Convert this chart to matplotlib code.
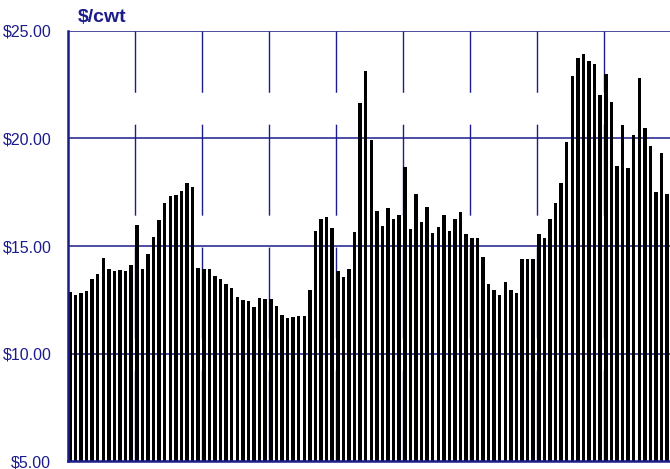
import matplotlib
matplotlib.use("Agg")
import matplotlib.pyplot as plt
import numpy as np

plt.rcParams['font.family'] = ['Liberation Sans', 'DejaVu Sans']

# Monthly prices, $/cwt (9 years x 12 months)
prices = [
    12.87, 12.71, 12.81, 12.91, 13.47, 13.68, 14.44, 13.94, 13.84, 13.88, 13.82, 14.10,
    15.98, 13.93, 14.64, 15.42, 16.21, 16.99, 17.34, 17.39, 17.56, 17.93, 17.76, 13.96,
    13.93, 13.93, 13.60, 13.47, 13.23, 13.03, 12.61, 12.47, 12.44, 12.15, 12.58, 12.52,
    12.53, 12.21, 11.79, 11.64, 11.70, 11.73, 11.74, 12.95, 15.70, 16.26, 16.36, 15.83,
    13.85, 13.57, 13.93, 15.64, 21.67, 23.14, 19.95, 16.63, 15.95, 16.77, 16.27, 16.44,
    18.67, 15.79, 17.43, 16.13, 16.81, 15.60, 15.88, 16.44, 15.70, 16.26, 16.57, 15.56,
    15.36, 15.37, 14.47, 13.22, 12.95, 12.74, 13.33, 12.95, 12.83, 14.41, 14.38, 14.41,
    15.57, 15.39, 16.24, 16.98, 17.92, 19.82, 22.91, 23.76, 23.91, 23.60, 23.45, 22.04,
    22.99, 21.68, 18.70, 20.62, 18.61, 20.18, 22.80, 20.47, 19.64, 17.53, 19.33, 17.43,
]
y_ticks = [5, 10, 15, 20, 25]
y_labels = ["$5.00", "$10.00", "$15.00", "$20.00", "$25.00"]
months_per_year = 12
unit_label = "$/cwt"

navy = '#1c1c8a'
base = 5

fig = plt.figure(figsize=(6.70, 4.69), dpi=100)
ax = fig.add_axes([68/670, 8/469, 603/670, 430/469])

n = len(prices)
x = np.arange(n)
ax.bar(x, np.array(prices) - base, bottom=base, width=0.64, align='edge',
       color='black', edgecolor='none', zorder=3)

ax.set_xlim(0, n)
ax.set_ylim(5, 25)

# horizontal grid lines
for yv in y_ticks[1:]:
    ax.axhline(yv, color=navy, lw=1.1, zorder=1)

# vertical dashed grid lines (dash starts at the bottom)
xs = np.arange(months_per_year, n, months_per_year)
ax.vlines(xs, 5, 25, colors=navy, lw=1.0, linestyles=[(0, (65.5, 23.0))], zorder=1)

ax.set_yticks(y_ticks)
ax.set_yticklabels(y_labels)
ax.set_xticks([])
ax.tick_params(axis='y', length=0, pad=12, labelsize=11.5, labelcolor=navy)
for s in ['top', 'right']:
    ax.spines[s].set_visible(False)
for s in ['left', 'bottom']:
    ax.spines[s].set_color(navy)
    ax.spines[s].set_linewidth(1.8)
    ax.spines[s].set_zorder(4)

fig.text(78/670, 1 - 17/469, unit_label, ha='left', va='center',
         fontsize=14, fontweight='bold', color=navy)

fig.savefig('out.png', dpi=100)
